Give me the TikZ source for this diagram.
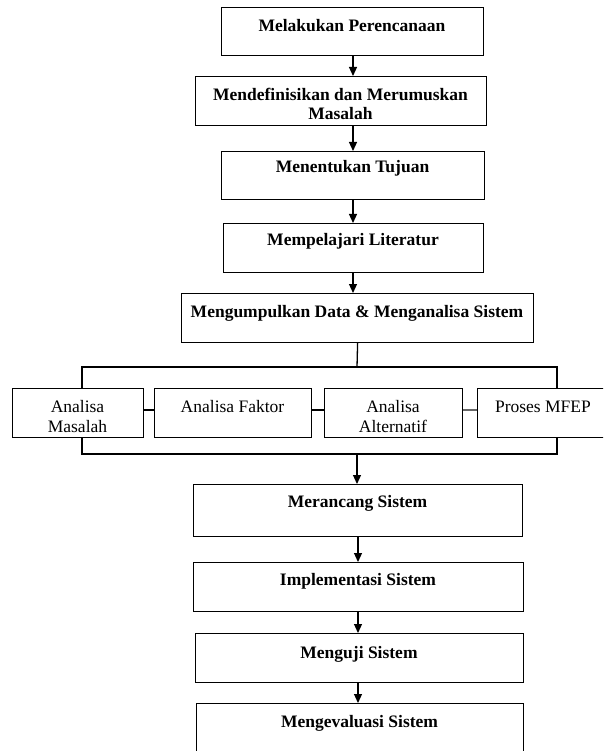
\documentclass[tikz,border=0pt]{standalone}
\usepackage{fontspec}
\setmainfont{Liberation Serif}
\usetikzlibrary{arrows.meta}
\begin{document}
\begin{tikzpicture}[x=1pt,y=1pt,
  box/.style={draw,line width=1.2pt,rectangle,inner sep=0pt,anchor=north west},
  maintext/.style={anchor=base,inner sep=0pt,font=\fontsize{17.5}{19}\selectfont\bfseries,align=center},
  subtext/.style={anchor=base,inner sep=0pt,font=\fontsize{17.5}{20}\selectfont,align=center},
  link/.style={line width=1.3pt},
  arr/.style={line width=1.2pt,-{Triangle[width=8pt,length=9pt]}}]
\useasboundingbox (0,0) rectangle (603,-751);
\clip (0,0) rectangle (603,-751);
% main boxes
\node[box,minimum width=262pt,minimum height=48pt] (b1) at (221,-7) {};
\node[box,minimum width=291pt,minimum height=49pt] (b2) at (195,-76) {};
\node[box,minimum width=263pt,minimum height=48pt] (b3) at (221,-151) {};
\node[box,minimum width=260pt,minimum height=49pt] (b4) at (223,-223) {};
\node[box,minimum width=352pt,minimum height=49pt] (b5) at (181,-293) {};
\node[box,minimum width=131pt,minimum height=49pt] (a1) at (12,-388) {};
\node[box,minimum width=157pt,minimum height=49pt] (a2) at (154,-388) {};
\node[box,minimum width=138pt,minimum height=49pt] (a3) at (324,-388) {};
\node[box,minimum width=130pt,minimum height=49pt] (a4) at (477,-388) {};
\node[box,minimum width=329pt,minimum height=52pt] (b6) at (193,-484) {};
\node[box,minimum width=330pt,minimum height=49pt] (b7) at (193,-562) {};
\node[box,minimum width=328pt,minimum height=49pt] (b8) at (195,-633) {};
\node[box,minimum width=327pt,minimum height=60pt] (b9) at (196,-703) {};
% texts (base anchor = baseline of last line)
\node[maintext] (t1) at (352,-32) {Melakukan Perencanaan};
\node[maintext] (t2) at (340.5,-120) {Mendefinisikan dan Merumuskan\\Masalah};
\node[maintext] (t3) at (352.5,-173) {Menentukan Tujuan};
\node[maintext] (t4) at (353,-245) {Mempelajari Literatur};
\node[maintext] (t5) at (357,-317) {Mengumpulkan Data \& Menganalisa Sistem};
\node[subtext] (s1) at (77.5,-432) {Analisa\\Masalah};
\node[subtext] (s2) at (232.5,-412) {Analisa Faktor};
\node[subtext] (s3) at (393,-432) {Analisa\\Alternatif};
\node[subtext] (s4) at (543,-412) {Proses MFEP};
\node[maintext] (t6) at (357.5,-507) {Merancang Sistem};
\node[maintext] (t7) at (358,-585) {Implementasi Sistem};
\node[maintext] (t8) at (359,-658) {Menguji Sistem};
\node[maintext] (t9) at (359.5,-727) {Mengevaluasi Sistem};
% coordinates
\coordinate (ax) at (353,0);
\coordinate (bx) at (358,0);
\coordinate (ly) at (0,-410);
\coordinate (jtop) at (357,-367);
\coordinate (jbot) at (357,-454);
\coordinate (xl) at (82,0);
\coordinate (xr) at (557,0);
% arrows
\draw[arr] (ax |- b1.south) -- (ax |- b2.north);
\draw[arr] (ax |- b2.south) -- (ax |- b3.north);
\draw[arr] (ax |- b3.south) -- (ax |- b4.north);
\draw[arr] (ax |- b4.south) -- (ax |- b5.north);
\draw[link] (b5.south) -- (jtop);
\draw[link] (xl |- a1.north) |- (jtop) -| (xr |- a4.north);
\draw[link] (a1.east |- ly) -- (a2.west |- ly);
\draw[link] (a2.east |- ly) -- (a3.west |- ly);
\draw[link,black!60] (a3.east |- ly) -- (a4.west |- ly);
\draw[link] (xl |- a1.south) |- (jbot) -| (xr |- a4.south);
\draw[arr] (jbot) -- (jbot |- b6.north);
\draw[arr] (bx |- b6.south) -- (bx |- b7.north);
\draw[arr] (bx |- b7.south) -- (bx |- b8.north);
\draw[arr] (bx |- b8.south) -- (bx |- b9.north);
\end{tikzpicture}
\end{document}
